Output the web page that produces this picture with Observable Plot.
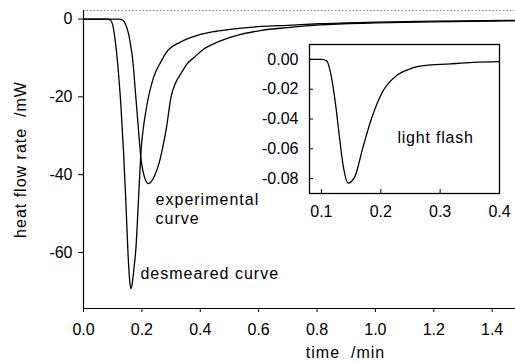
<!DOCTYPE html>
<html><head><meta charset="utf-8">
<script src="https://cdn.jsdelivr.net/npm/d3@7"></script>
<script src="https://cdn.jsdelivr.net/npm/@observablehq/plot@0.6"></script>
<style>
body{margin:0;background:#fff;}
#wrap{position:relative;width:515px;height:363px;overflow:hidden;background:#fff;}
#inset{position:absolute;left:250px;top:30px;}
#main{position:absolute;left:0;top:0;}
</style></head><body><div id="wrap"><div id="main"></div><div id="inset"></div></div>
<script>
// ---- main panel data (time /min, heat flow rate /mW) ----
const desmearedT = [0, 0.08, 0.093, 0.10, 0.110, 0.12, 0.128, 0.137, 0.145, 0.152, 0.158, 0.162, 0.167, 0.173, 0.179, 0.19, 0.197, 0.205, 0.214, 0.24, 0.265, 0.29, 0.33, 0.39, 0.45, 0.517, 0.61, 0.7, 0.807, 1.0, 1.2, 1.48];
const desmearedY = [0, 0, -0.3, -1.5, -6.3, -14, -22, -34, -46.7, -59.5, -67, -69.3, -68, -64, -59.5, -44, -34, -28, -23.5, -15, -11, -8, -6, -4.2, -3.2, -2.5, -1.9, -1.6, -1.2, -0.8, -0.55, -0.35];
const experimentalT = [0, 0.12, 0.135, 0.145, 0.155, 0.162, 0.169, 0.176, 0.183, 0.19, 0.197, 0.205, 0.213, 0.222, 0.232, 0.245, 0.259, 0.27, 0.283, 0.3, 0.315, 0.334, 0.355, 0.38, 0.41, 0.448, 0.517, 0.61, 0.7, 0.81, 1.0, 1.2, 1.48];
const experimentalY = [0, 0, -0.3, -1.5, -4, -7, -10.7, -17, -23.5, -30, -36, -39.5, -41.5, -42.3, -41.8, -40, -37, -33.5, -28.5, -20, -16.5, -14, -11.5, -9.8, -7.8, -6.3, -4.4, -2.9, -2.2, -1.5, -1.0, -0.7, -0.45];
const mainXDomain = [0, 1.48];
const mainYDomain = [-74.4, 2.2];
const mainXTicks = [0, 0.2, 0.4, 0.6, 0.8, 1.0, 1.2, 1.4];
const mainYTicks = [0, -20, -40, -60];
const mainXLabel = "time\u00a0 /min";
const mainYLabel = "heat flow rate\u00a0 /mW";
const mainLabels = [
  {t: 0.247, v: -46.4, text: "experimental"},
  {t: 0.247, v: -51.3, text: "curve"},
  {t: 0.195, v: -65.6, text: "desmeared curve"}
];

// ---- inset data (light flash) ----
const flashT = [0.08, 0.10, 0.109, 0.117, 0.1245, 0.131, 0.137, 0.145, 0.156, 0.170, 0.185, 0.204, 0.227, 0.245, 0.266, 0.317, 0.356, 0.4];
const flashY = [0, 0, -0.001, -0.012, -0.032, -0.054, -0.072, -0.083, -0.079, -0.059, -0.039, -0.021, -0.0107, -0.007, -0.0045, -0.003, -0.002, -0.0015];
const insetXDomain = [0.08, 0.4];
const insetYDomain = [-0.09, 0.01];
const insetXTicks = [0.1, 0.2, 0.3, 0.4];
const insetYTicks = [0, -0.02, -0.04, -0.06, -0.08];
const insetLabel = {t: 0.228, v: -0.0524, text: "light flash"};

const desmeared = desmearedT.map((t, i) => ({t, v: desmearedY[i]}));
const experimental = experimentalT.map((t, i) => ({t, v: experimentalY[i]}));
const flash = flashT.map((t, i) => ({t, v: flashY[i]}));

const font = "'Liberation Sans', Arial, Helvetica, sans-serif";

const main = Plot.plot({
  width: 515, height: 363,
  marginLeft: 83, marginRight: 0, marginTop: 10, marginBottom: 55,
  x: {domain: mainXDomain},
  y: {domain: mainYDomain},
  style: {fontFamily: font, fontSize: "16px", background: "white", color: "black", overflow: "visible"},
  marks: [
    Plot.ruleY([mainYDomain[1]], {stroke: "#888", strokeDasharray: "1.5,2"}),
    Plot.axisX({ticks: mainXTicks, tickFormat: d => d.toFixed(1), tickSize: 4, tickPadding: 11, label: null}),
    Plot.axisY({ticks: mainYTicks, tickFormat: d => String(d), tickSize: 5, tickPadding: 6, label: null}),
    Plot.ruleY([mainYDomain[0]], {stroke: "black", strokeWidth: 1.2}),
    Plot.ruleX([mainXDomain[0]], {stroke: "black", strokeWidth: 1.2}),
    Plot.line(experimental, {x: "t", y: "v", stroke: "black", strokeWidth: 1.3, curve: "monotone-x"}),
    Plot.line(desmeared, {x: "t", y: "v", stroke: "black", strokeWidth: 1.3, curve: "monotone-x"}),
    Plot.text(mainLabels, {x: "t", y: "v", text: "text", textAnchor: "start", fontSize: 16, fill: "black"}),
    Plot.text([mainXLabel], {frameAnchor: "bottom", text: d => d, textAnchor: "middle", dx: 46, dy: 49, fontSize: 16, fill: "black"}),
    Plot.text([mainYLabel], {frameAnchor: "left", text: d => d, textAnchor: "middle", rotate: -90, dx: -63, fontSize: 16, fill: "black"})
  ]
});
d3.select(main).selectAll('g[aria-label="text"]').attr("letter-spacing", "1px");
document.getElementById("main").appendChild(main);

const inset = Plot.plot({
  width: 265, height: 193,
  marginLeft: 59, marginRight: 16, marginTop: 14, marginBottom: 30,
  x: {domain: insetXDomain},
  y: {domain: insetYDomain},
  style: {fontFamily: font, fontSize: "16px", background: "transparent", color: "black", overflow: "visible"},
  marks: [
    Plot.frame({stroke: "black", strokeWidth: 1.3, fill: "white"}),
    Plot.axisX({ticks: insetXTicks, tickFormat: d => d.toFixed(1), tickSize: 0, tickPadding: 12, label: null}),
    Plot.axisY({ticks: insetYTicks, tickFormat: d => d.toFixed(2), tickSize: 0, tickPadding: 11, label: null}),
    Plot.tickX(insetXTicks, {x: d => d, insetTop: 145, stroke: "black"}),
    Plot.tickY(insetYTicks, {y: d => d, insetRight: 186, stroke: "black"}),
    Plot.line(flash, {x: "t", y: "v", stroke: "black", strokeWidth: 1.3, curve: "monotone-x"}),
    Plot.text([insetLabel], {x: "t", y: "v", text: "text", textAnchor: "start", fontSize: 16, fill: "black"})
  ]
});
d3.select(inset).selectAll('g[aria-label="text"]').attr("letter-spacing", "0.8px");
document.getElementById("inset").appendChild(inset);
</script>
</body></html>
